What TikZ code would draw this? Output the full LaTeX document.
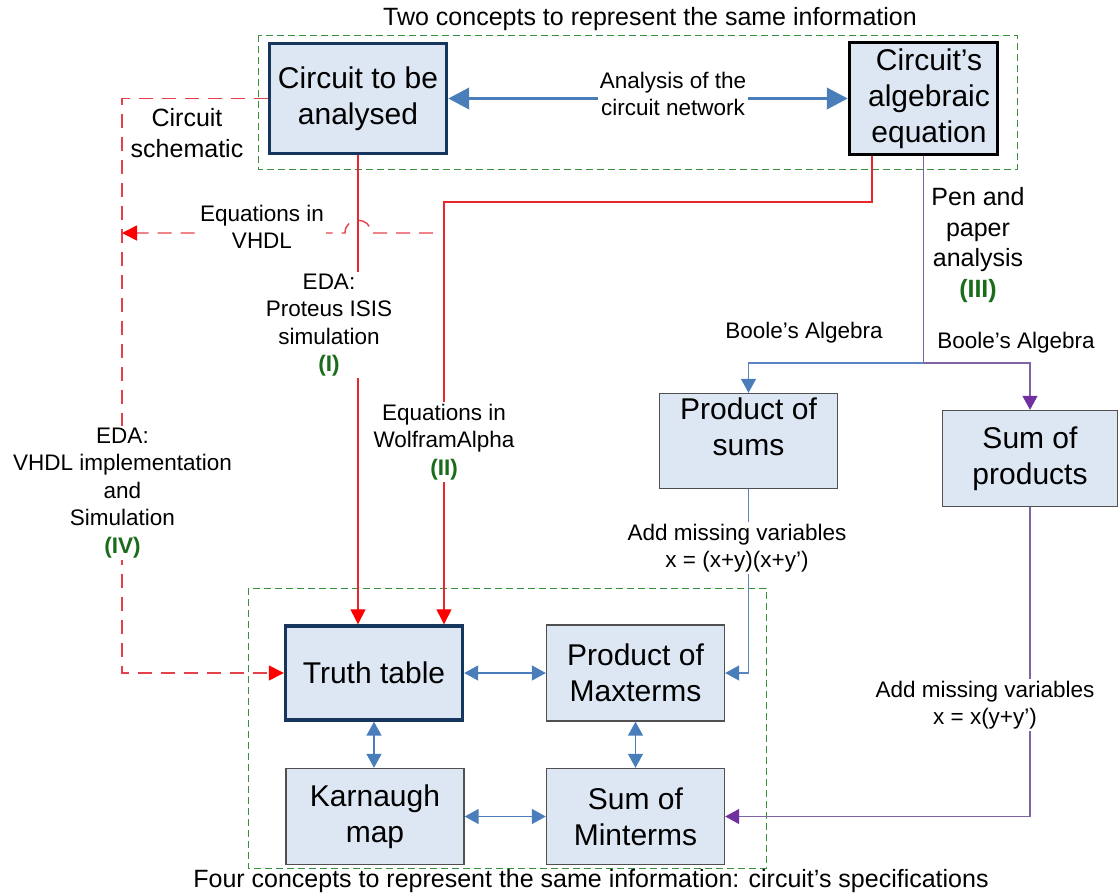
\documentclass[tikz,border=0pt]{standalone}
\usepackage{fontspec}
\setmainfont{Liberation Sans}
\usetikzlibrary{arrows.meta}
\definecolor{boxfill}{HTML}{DDE6F3}
\definecolor{navy}{HTML}{17365D}
\definecolor{bluearr}{HTML}{4A7EBB}
\definecolor{bluethin}{HTML}{5B84C4}
\definecolor{reddash}{HTML}{E5404B}
\definecolor{redsol}{HTML}{E8262E}
\definecolor{purpline}{HTML}{8064A2}
\definecolor{purparr}{HTML}{7030A0}
\definecolor{grn}{HTML}{3A8F3A}
\definecolor{dgreen}{HTML}{1A6B1A}
\definecolor{boxgrey}{HTML}{505050}
\newcommand{\grntag}[1]{{\color{dgreen}\bfseries #1}}
\begin{document}
\begin{tikzpicture}[x=1pt,y=-1pt,
  boxbase/.style={rectangle, fill=boxfill, align=center, inner sep=0pt, font=\fontsize{30}{36}\selectfont},
  mainbox/.style={boxbase, draw=navy, line width=3.4pt},
  eqbox/.style={boxbase, draw=black, line width=3.4pt},
  subbox/.style={boxbase, draw=boxgrey, line width=1.4pt},
  boxtext/.style={align=center, inner sep=0pt, font=\fontsize{30}{36}\selectfont},
  lbl/.style={align=center, font=\fontsize{22.5}{27.5}\selectfont, fill=white, inner sep=2pt},
  biglbl/.style={align=center, font=\fontsize{25}{30.5}\selectfont, inner sep=2pt},
  titletxt/.style={font=\fontsize{25}{30}\selectfont, inner sep=0pt},
  grnframe/.style={draw=grn, line width=1pt, dash pattern=on 7pt off 4pt},
  redsolid/.style={draw=redsol, line width=1.3pt},
  reddashed/.style={draw=reddash, line width=1.4pt, dash pattern=on 14pt off 9pt},
  redtip/.style={-{Triangle[length=15pt,width=15pt,color=red]}},
  bigarrow/.style={draw=bluearr, line width=3.8pt, {Triangle[length=21pt,width=21pt]}-{Triangle[length=21pt,width=21pt]}},
  bluethinline/.style={draw=bluethin, line width=1.3pt},
  bluetip/.style={-{Triangle[length=14pt,width=15pt,color=bluearr]}},
  bibl/.style={draw=bluearr, line width=1.6pt, {Triangle[length=14pt,width=15pt]}-{Triangle[length=14pt,width=15pt]}},
  purpthin/.style={draw=purpline, line width=1.3pt},
  purptip/.style={-{Triangle[length=14pt,width=15pt,color=purparr]}}
]
\useasboundingbox (0,0) rectangle (1119,894);

% green dashed frames
\draw[grnframe] (258,35) rectangle (1017,169);
\draw[grnframe] (248,588) rectangle (766,868);

% titles
\node[titletxt] (t1) at (650,19) {Two concepts to represent the same information};
\node[titletxt] (t2) at (591,881) {Four concepts to represent the same information: circuit’s specifications};

% boxes
\node[mainbox, minimum width=177pt, minimum height=110pt] (cir) at (358,98.5) {Circuit to be\\analysed};
\node[eqbox, minimum width=148pt, minimum height=112pt] (eq) at (923.5,98.5) {\hspace*{11pt}Circuit’s\\\hspace*{11pt}algebraic\\\hspace*{11pt}equation};
\node[mainbox, minimum width=177pt, minimum height=94pt] (tt) at (374,673) {Truth table};
\node[subbox, minimum width=178pt, minimum height=96pt] (pmax) at (635.5,673) {Product of\\Maxterms};
\node[subbox, minimum width=178pt, minimum height=96pt] (kmap) at (375,816.5) {Karnaugh\\map};
\node[subbox, minimum width=178pt, minimum height=96pt] (mint) at (635.5,816.5) {Sum of\\Minterms};
\node[subbox, minimum width=178pt, minimum height=95pt] (pos) at (748.5,441) {};
\node[boxtext] (postxt) at (748.5,427) {Product of\\sums};
\node[subbox, minimum width=175pt, minimum height=96pt] (sop) at (1030,458.5) {Sum of\\products};

% analysis arrow
\draw[bigarrow] (cir.east) -- (eq.west);
\node[lbl] (anl) at (673,94) {Analysis of the\\circuit network};

% circuit schematic (IV)
\coordinate (sch) at (122,98.5);
\draw[reddashed, redtip] (cir.west) -- (sch) |- (tt.west);
\node[biglbl] (schlbl) at (187,133) {Circuit\\schematic};
\node[lbl] (vhdlimpl) at (122.5,493) {EDA:\\VHDL implementation\\and\\Simulation\\\grntag{(IV)}};

% equations in VHDL with hop
\coordinate (vs) at (433,233);
\coordinate (hopR) at (371,233);
\coordinate (hopL) at (345,233);
\coordinate (ve) at (122,233);
\draw[reddashed, redtip] (vs) -- (hopR) .. controls (371,216) and (345,216) .. (hopL) -- (ve);
\node[lbl] (vhdllbl) at (262,227) {Equations in\\VHDL};

% Proteus (I)
\draw[redsolid, redtip] (cir.south) -- (cir.south |- tt.north);
\node[lbl] (edalbl) at (329,325) {EDA:\\Proteus ISIS\\simulation\\\grntag{(I)}};

% WolframAlpha (II)
\coordinate (w1) at (872,202);
\coordinate (w2) at (444,202);
\draw[redsolid, redtip] (eq.south -| w1) -- (w1) -- (w2) -- (w2 |- tt.north);
\node[lbl] (wlbl) at (444,442) {Equations in\\WolframAlpha\\\grntag{(II)}};

% pen and paper (III)
\coordinate (split) at (923.5,363);
\draw[purpthin] (eq.south) -- (split);
\node[biglbl] (penlbl) at (978,245) {Pen and\\paper\\analysis\\\grntag{(III)}};
\draw[bluethinline, bluetip] (split) -- (split -| pos.north) -- (pos.north);
\draw[purpthin, purptip] (split) -- (split -| sop.north) -- (sop.north);
\node[lbl, fill=none] (boole1) at (804,333) {Boole’s Algebra};
\node[lbl, fill=none] (boole2) at (1016,343) {Boole’s Algebra};

% add missing variables
\draw[bluethinline, bluetip] (pos.south) -- (pos.south |- pmax.east) -- (pmax.east);
\node[lbl] (add1) at (737,548) {Add missing variables\\x = (x+y)(x+y’)};
\draw[purpthin, purptip] (sop.south) -- (sop.south |- mint.east) -- (mint.east);
\node[lbl] (add2) at (985,705) {Add missing variables\\x = x(y+y’)};

% bottom bidirectional arrows
\draw[bibl] (tt.east) -- (pmax.west);
\draw[bibl] (tt.south) -- (tt.south |- kmap.north);
\draw[bibl] (pmax.south) -- (mint.north);
\draw[bibl] (kmap.east) -- (mint.west);
\end{tikzpicture}
\end{document}
